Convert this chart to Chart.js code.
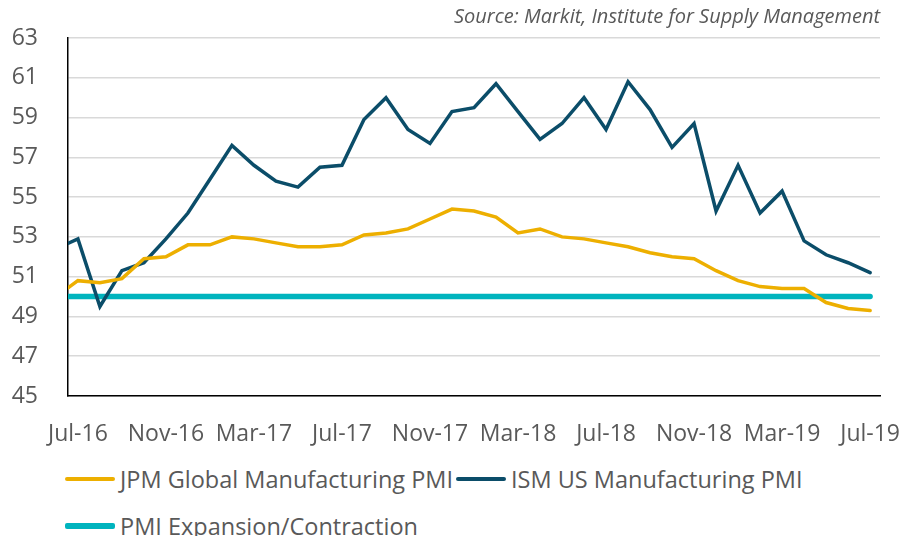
<!DOCTYPE html><html><head><title>PMI</title>
<style>html,body{margin:0;padding:0;background:#fff;overflow:hidden}#wrap{position:absolute;left:0;top:0;width:903px;height:455px}#legend{position:absolute;left:65px;top:465px;width:838px;display:flex;flex-wrap:wrap;row-gap:19px;column-gap:3px;font:23.5px "Open Sans";color:#595959}.item{display:flex;align-items:center;height:28px}.item i{display:inline-block;width:50px;margin-right:5px;border-radius:2px}</style>
<script src="https://cdn.jsdelivr.net/npm/chart.js"></script>
</head><body><div id="wrap"><canvas id="chart"></canvas></div><div id="legend"></div>
<script>
const months = ['Jun-16','Jul-16','Aug-16','Sep-16','Oct-16','Nov-16','Dec-16','Jan-17','Feb-17','Mar-17','Apr-17','May-17','Jun-17','Jul-17','Aug-17','Sep-17','Oct-17','Nov-17','Dec-17','Jan-18','Feb-18','Mar-18','Apr-18','May-18','Jun-18','Jul-18','Aug-18','Sep-18','Oct-18','Nov-18','Dec-18','Jan-19','Feb-19','Mar-19','Apr-19','May-19','Jun-19','Jul-19'];
const tickLabels = ['Jul-16','Nov-16','Mar-17','Jul-17','Nov-17','Mar-18','Jul-18','Nov-18','Mar-19','Jul-19'];
const jpm = [50.0,50.8,50.7,50.9,51.9,52.0,52.6,52.6,53.0,52.9,52.7,52.5,52.5,52.6,53.1,53.2,53.4,53.9,54.4,54.3,54.0,53.2,53.4,53.0,52.9,52.7,52.5,52.2,52.0,51.9,51.3,50.8,50.5,50.4,50.4,49.7,49.4,49.3];
const ism = [52.4,52.9,49.5,51.3,51.7,52.9,54.2,55.9,57.6,56.6,55.8,55.5,56.5,56.6,58.9,60.0,58.4,57.7,59.3,59.5,60.7,59.3,57.9,58.7,60.0,58.4,60.8,59.4,57.5,58.7,54.3,56.6,54.2,55.3,52.8,52.1,51.7,51.2];
const threshold = months.map(() => 50);
const series = [
  { label: 'JPM Global Manufacturing PMI', values: jpm, color: '#EDAF00', width: 3.5 },
  { label: 'ISM US Manufacturing PMI', values: ism, color: '#0B4D69', width: 3.5 },
  { label: 'PMI Expansion/Contraction', values: threshold, color: '#00B4BE', width: 5.5 },
];
const grey = '#595959', font = 'Open Sans';
const chart = new Chart(document.getElementById('chart'), {
  type: 'line',
  data: { datasets: series.map(s => ({
    label: s.label, data: s.values.map((y, i) => ({ x: i, y })),
    borderColor: s.color, backgroundColor: s.color, borderWidth: s.width,
    borderCapStyle: 'round', borderJoinStyle: 'miter', pointRadius: 0, tension: 0,
  })) },
  options: {
    responsive: true, maintainAspectRatio: false, animation: false,
    layout: { padding: { left: 12, right: 23, top: 0, bottom: 0 } },
    plugins: {
      legend: { display: false }, tooltip: { enabled: false },
      title: { display: true, text: 'Source: Markit, Institute for Supply Management', align: 'end',
        color: grey, font: { family: font, size: 20, style: 'italic', weight: 'normal', lineHeight: 1.1 }, padding: { top: 6, bottom: 10 } },
    },
    scales: {
      x: { type: 'linear', min: 0.55, max: 37.45,
        afterBuildTicks: s => { s.ticks = tickLabels.map(l => ({ value: months.indexOf(l) })); },
        afterFit: s => { s.height = 59; s.paddingRight = 0; },
        ticks: { callback: v => months[v], color: grey, font: { family: font, size: 23 }, padding: 25, maxRotation: 0, autoSkip: false },
        grid: { display: false, drawTicks: false },
        border: { display: true, color: '#000', width: 1.5 } },
      y: { min: 45, max: 63,
        afterFit: s => { s.width = 56; s.paddingTop = 0; s.paddingBottom = 0; },
        ticks: { stepSize: 2, color: grey, font: { family: font, size: 23 }, padding: 30 },
        grid: { color: '#D9D9D9', lineWidth: 1.5, drawTicks: false },
        border: { display: true, color: '#000', width: 1.5 } },
    },
  },
});
document.getElementById('legend').innerHTML = series.map(s =>
  `<span class="item"><i style="height:${s.width}px;background:${s.color}"></i>${s.label}</span>`).join('');
</script>
</body>
</html>
